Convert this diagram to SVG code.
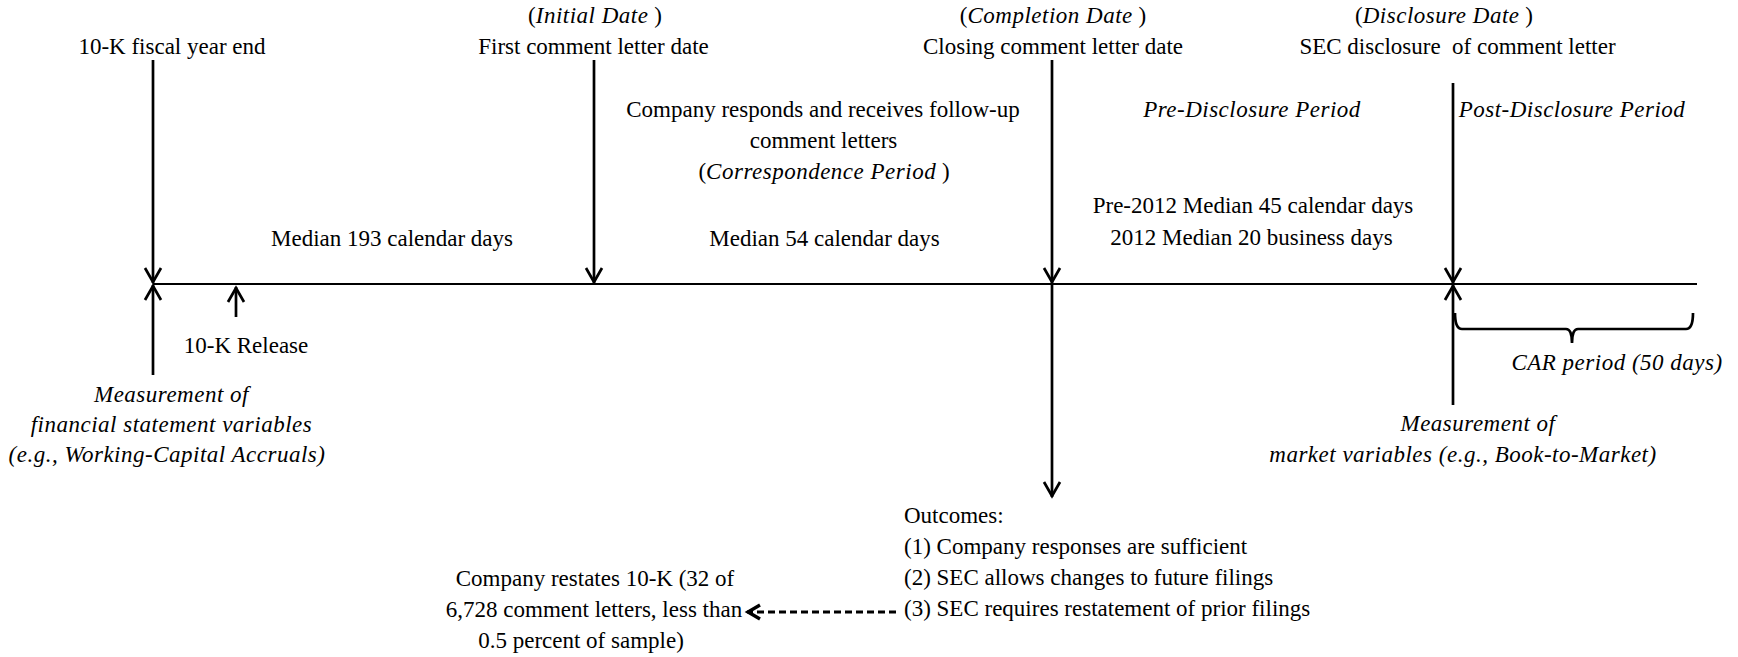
<svg xmlns="http://www.w3.org/2000/svg" width="1738" height="657" viewBox="0 0 1738 657">
<style>
text { font-family: "Liberation Serif", "Times New Roman", serif; font-size: 23px; fill: #000; text-anchor: middle; }
.i { font-style: italic; letter-spacing: 0.5px; }
.l { text-anchor: start; }
.ln { stroke: #000; stroke-width: 2.7; fill: none; }
.tl { stroke: #000; stroke-width: 2.2; fill: none; }
.arr { marker-end: url(#ah); }
.dash { stroke: #000; stroke-width: 2.9; fill: none; stroke-dasharray: 7 4; marker-end: url(#ahb); }
</style>
<defs>
<marker id="ah" markerUnits="userSpaceOnUse" markerWidth="24" markerHeight="24" viewBox="-18 -12 24 24" refX="0" refY="0" orient="auto">
<path d="M-15,-8 L-1,0 L-15,8" fill="none" stroke="#000" stroke-width="2.7"/>
</marker>
<marker id="ahb" markerUnits="userSpaceOnUse" markerWidth="24" markerHeight="24" viewBox="-18 -12 24 24" refX="0" refY="0" orient="auto">
<path d="M-13,-7 L-1,0 L-13,7" fill="none" stroke="#000" stroke-width="3.4"/>
</marker>
</defs>
<rect width="1738" height="657" fill="#fff"/>

<g id="connectors">
<line class="tl" x1="153" y1="284" x2="1697" y2="284"/>
<line class="ln arr" x1="153" y1="60" x2="153" y2="283"/>
<line class="ln arr" x1="153" y1="375" x2="153" y2="285"/>
<line class="ln arr" x1="236" y1="317" x2="236" y2="287"/>
<line class="ln arr" x1="594" y1="60" x2="594" y2="283"/>
<line class="ln arr" x1="1052" y1="60" x2="1052" y2="283"/>
<line class="ln arr" x1="1052" y1="283" x2="1052" y2="497"/>
<line class="ln arr" x1="1453" y1="83" x2="1453" y2="283"/>
<line class="ln arr" x1="1453" y1="405" x2="1453" y2="285"/>
<path class="ln" d="M1455,313 Q1455,329 1462,329 L1566,329 Q1572,329 1572,343 Q1572,329 1578,329 L1686,329 Q1693,329 1693,313"/>
<line class="dash" x1="896" y1="612" x2="747" y2="612"/>
</g>

<g id="fiscal-year-end">
<text x="172" y="54">10-K fiscal year end</text>
</g>
<g id="initial-date">
<text x="595" y="23">(<tspan class="i">Initial Date</tspan> )</text>
<text x="593.5" y="54">First comment letter date</text>
</g>
<g id="completion-date">
<text x="1053" y="23">(<tspan class="i">Completion Date</tspan> )</text>
<text x="1053" y="54">Closing comment letter date</text>
</g>
<g id="disclosure-date">
<text x="1444" y="23">(<tspan class="i">Disclosure Date</tspan> )</text>
<text x="1457.5" y="54" xml:space="preserve">SEC disclosure  of comment letter</text>
</g>
<g id="correspondence-period">
<text x="823" y="117">Company responds and receives follow-up</text>
<text x="823.5" y="148">comment letters</text>
<text x="824" y="179">(<tspan class="i">Correspondence Period</tspan> )</text>
<text x="824.5" y="246">Median 54 calendar days</text>
</g>
<g id="first-period">
<text x="392" y="246">Median 193 calendar days</text>
</g>
<g id="pre-disclosure">
<text class="i" x="1252" y="117">Pre-Disclosure Period</text>
<text x="1253" y="213">Pre-2012 Median 45 calendar days</text>
<text x="1251.5" y="245">2012 Median 20 business days</text>
</g>
<g id="post-disclosure">
<text class="i" x="1572" y="117">Post-Disclosure Period</text>
</g>
<g id="tenk-release">
<text x="246" y="352.5">10-K Release</text>
</g>
<g id="fs-measurement">
<text class="i" x="171.5" y="402">Measurement of</text>
<text class="i" x="171.5" y="432">financial statement variables</text>
<text class="i" x="167" y="462">(e.g., Working-Capital Accruals)</text>
</g>
<g id="car-period">
<text class="i" x="1617" y="370">CAR period (50 days)</text>
</g>
<g id="market-measurement">
<text class="i" x="1478" y="431">Measurement of</text>
<text class="i" x="1463" y="461.5">market variables (e.g., Book-to-Market)</text>
</g>
<g id="outcomes">
<text class="l" x="904" y="523">Outcomes:</text>
<text class="l" x="904" y="554">(1) Company responses are sufficient</text>
<text class="l" x="904" y="585">(2) SEC allows changes to future filings</text>
<text class="l" x="904" y="616">(3) SEC requires restatement of prior filings</text>
</g>
<g id="restatement">
<text x="595" y="586">Company restates 10-K (32 of</text>
<text x="594" y="617">6,728 comment letters, less than</text>
<text x="581" y="648">0.5 percent of sample)</text>
</g>
</svg>
